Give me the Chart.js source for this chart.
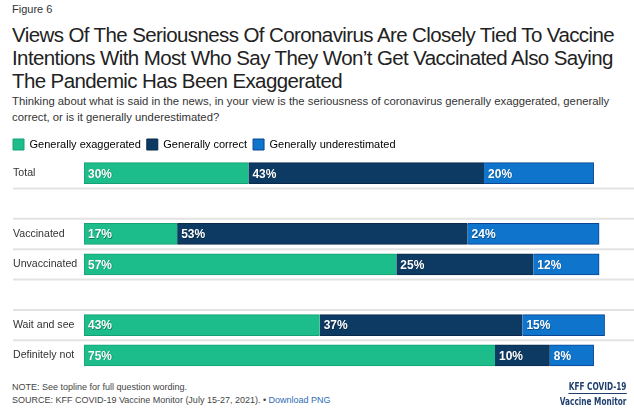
<!DOCTYPE html>
<html>
<head>
<meta charset="utf-8">
<script src="https://cdn.jsdelivr.net/npm/chart.js@4"></script>
<style>
  body { margin: 0; background: #fff; font-family: "Liberation Sans", Arial, sans-serif; color: #222; }
  #page { position: relative; width: 634px; height: 416px; overflow: hidden; }
  .fig { position: absolute; left: 12px; top: 3px; font-size: 11px; color: #333; }
  .title { position: absolute; left: 12px; top: 23px; width: 622px; font-size: 20.5px; line-height: 23px; letter-spacing: -0.6px; color: #222; }
  .sub { position: absolute; left: 12px; top: 93px; width: 620px; font-size: 11.3px; line-height: 16px; color: #333; }
  #chartBox { position: absolute; left: 0; top: 131px; width: 634px; height: 249px; }
  .note { position: absolute; left: 12px; top: 381px; font-size: 9px; line-height: 13px; color: #444; }
  .note span { color: #2f6db5; }
  .logo { position: absolute; right: 8px; top: 379px; text-align: right; font-family: "DejaVu Sans Condensed", "DejaVu Sans", sans-serif; font-weight: bold; font-size: 10.5px; color: #1f3f6e; line-height: 14px; transform: scaleX(0.78); transform-origin: right top; }
  .logo .top { border-bottom: 1.5px solid #1f3f6e; padding-bottom: 0px; display: inline-block; }
</style>
</head>
<body>
<div id="page">
  <div class="fig">Figure 6</div>
  <div class="title">Views Of The Seriousness Of Coronavirus Are Closely Tied To Vaccine Intentions With Most Who Say They Won’t Get Vaccinated Also Saying The Pandemic Has Been Exaggerated</div>
  <div class="sub">Thinking about what is said in the news, in your view is the seriousness of coronavirus generally exaggerated, generally correct, or is it generally underestimated?</div>
  <div id="chartBox"><canvas id="chart"></canvas></div>
  <div class="note">NOTE: See topline for full question wording.<br>SOURCE: KFF COVID-19 Vaccine Monitor (July 15-27, 2021). • <span>Download PNG</span></div>
  <div class="logo"><span class="top">KFF COVID-19</span><br>Vaccine Monitor</div>
</div>
<script>
// Rows (blank strings are the gaps between groups)
const categories = ['Total', '', 'Vaccinated', 'Unvaccinated', ' ', 'Wait and see', 'Definitely not'];

// Series values (%)
const exaggerated = [30, null, 17, 57, null, 43, 75];
const correct = [43, null, 53, 25, null, 37, 10];
const underestimated = [20, null, 24, 12, null, 15, 8];

const seriesNames = ['Generally exaggerated', 'Generally correct', 'Generally underestimated'];
const fillColors = ['#1cbd8b', '#0c3a63', '#0e74cc'];
const edgeColors = ['#15a174', '#082b4b', '#0b4594'];

// Gray separators between rows, stretching across the labels too
const separators = {
    id: 'separators',
    beforeDatasetsDraw(chart) {
        const y = chart.scales.y;
        const ctx = chart.ctx;
        ctx.save();
        ctx.strokeStyle = '#e3e3e3';
        ctx.lineWidth = 2;
        for (let i = 1; i < categories.length; i++) {
            const pos = (y.getPixelForTick(i - 1) + y.getPixelForTick(i)) / 2;
            ctx.beginPath();
            ctx.moveTo(13, pos);
            ctx.lineTo(chart.width, pos);
            ctx.stroke();
        }
        ctx.restore();
    }
};

// White percentage labels at the left of each segment
const valueLabels = {
    id: 'valueLabels',
    afterDatasetsDraw(chart) {
        const ctx = chart.ctx;
        ctx.save();
        ctx.font = 'bold 12px "Liberation Sans", Arial, sans-serif';
        ctx.textBaseline = 'middle';
        ctx.textAlign = 'left';
        chart.data.datasets.forEach((ds, d) => {
            chart.getDatasetMeta(d).data.forEach((bar, i) => {
                const v = ds.data[i];
                if (v == null) return;
                const x = Math.min(bar.x, bar.base) + 4;
                ctx.fillStyle = 'rgba(0,0,0,0.35)';
                ctx.fillText(v + '%', x + 0.6, bar.y + 1.6);
                ctx.fillStyle = '#fff';
                ctx.fillText(v + '%', x, bar.y + 1);
            });
        });
        ctx.restore();
    }
};

// Push the y labels back to the page margin and nudge the legend down
const labelMargin = {
    id: 'labelMargin',
    afterLayout(chart) {
        chart.scales.y.left = 13;
        chart.legend.top += 2;
        chart.legend.bottom += 2;
    }
};

const allSeries = [exaggerated, correct, underestimated];

new Chart(document.getElementById('chart'), {
    type: 'bar',
    data: {
        labels: categories,
        datasets: allSeries.map((vals, k) => ({
            label: seriesNames[k],
            data: vals,
            backgroundColor: fillColors[k],
            borderColor: edgeColors[k],
            borderWidth: {
                top: 1, bottom: 1,
                left: k === 0 ? 1 : 0,
                right: k === allSeries.length - 1 ? 1 : 0
            },
            borderSkipped: false,
            barThickness: 21
        }))
    },
    options: {
        indexAxis: 'y',
        responsive: true,
        maintainAspectRatio: false,
        animation: false,
        layout: { padding: { left: 7, right: 2, top: 0, bottom: 4 } },
        scales: {
            x: { display: false, stacked: true, min: 0, max: 100 },
            y: {
                stacked: true,
                grid: { display: false },
                border: { display: false },
                afterFit(scale) { scale.width = 77; },
                ticks: {
                    crossAlign: 'far',
                    color: '#333',
                    font: { family: '"Liberation Sans", Arial, sans-serif', size: 10.6 }
                }
            }
        },
        plugins: {
            legend: {
                position: 'top',
                align: 'start',
                labels: {
                    boxWidth: 11,
                    boxHeight: 11,
                    padding: 6,
                    color: '#333',
                    font: { family: '"Liberation Sans", Arial, sans-serif', size: 11 },
                    generateLabels(chart) {
                        return chart.data.datasets.map((ds, k) => ({
                            text: ds.label,
                            fillStyle: fillColors[k],
                            strokeStyle: edgeColors[k],
                            lineWidth: 1,
                            datasetIndex: k
                        }));
                    }
                }
            },
            tooltip: { enabled: false }
        }
    },
    plugins: [separators, valueLabels, labelMargin]
});
</script>
</body>
</html>
